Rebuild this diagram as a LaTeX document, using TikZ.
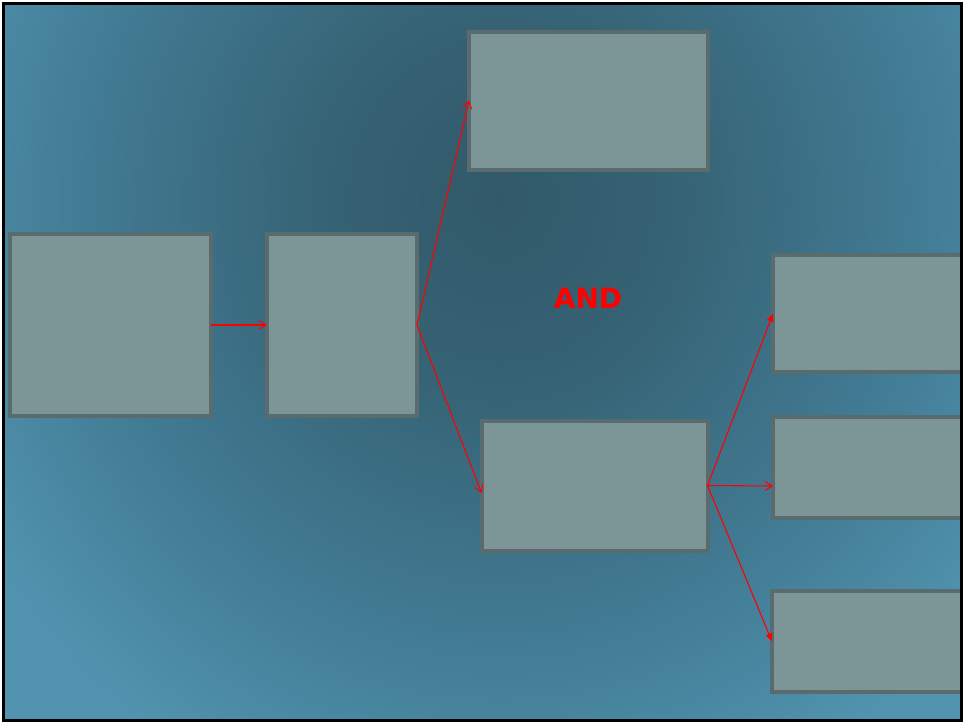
\documentclass[tikz,border=0pt]{standalone}
\usepackage{fontspec}
\newfontfamily\andfont{DejaVu Sans}
\usetikzlibrary{arrows.meta}
\definecolor{boxfill}{HTML}{7C9597}
\definecolor{boxline}{HTML}{5A6B6D}
\definecolor{bgA}{HTML}{315969}
\definecolor{bgB}{HTML}{366375}
\definecolor{bgC}{HTML}{427C95}
\definecolor{bgD}{HTML}{5294B0}
\pgfdeclareradialshading{bgshade}{\pgfpoint{0bp}{0bp}}{color(0bp)=(bgA); color(5.4bp)=(bgB); color(12.7bp)=(bgC); color(18.5bp)=(bgD); color(50bp)=(bgD)}
\tikzset{
  box/.style={draw=boxline, fill=boxfill, line width=4pt, inner sep=0pt, outer sep=0pt},
  openarr/.style={draw=red, line width=1.1pt, -{Straight Barb[length=7pt,width=9pt,line width=1pt]}},
  fillarr/.style={draw=red, line width=1.1pt, -{Triangle[length=8pt,width=6.5pt]}},
}
\begin{document}
\begin{tikzpicture}[x=1pt,y=-1pt]
\useasboundingbox (0,0) rectangle (964,724);
\fill[white] (0,0) rectangle (964,724);
\begin{scope}
\clip (3.5,3) rectangle (961.5,720.5);
\fill[bgD] (3.5,3) rectangle (961.5,720.5);
\fill[shading=bgshade] (500,200) ellipse [x radius=832pt, y radius=884pt];
\node[box, minimum width=201pt, minimum height=182pt] (a) at (110.5,325) {};
\node[box, minimum width=150pt, minimum height=182pt] (b) at (342,325) {};
\node[box, minimum width=239pt, minimum height=138pt] (c) at (588.5,100.5) {};
\node[box, minimum width=226pt, minimum height=130pt] (d) at (594.5,485.5) {};
\node[box, minimum width=240pt, minimum height=117pt] (e) at (893,313.5) {};
\node[box, minimum width=240pt, minimum height=101pt] (f) at (893,467.5) {};
\node[box, minimum width=240pt, minimum height=101pt] (g) at (892,641.5) {};
\node[text=red, font=\andfont\bfseries\fontsize{28}{32}\selectfont] (and) at (588,298) {AND};
\draw[openarr] (a.east) -- (b.west);
\draw[openarr] (b.east) -- (c.west);
\draw[openarr] (b.east) -- ([yshift=-7.5pt]d.west);
\draw[fillarr] (d.east) -- (e.west);
\draw[openarr] (d.east) -- ([yshift=-18.5pt]f.west);
\draw[fillarr] (d.east) -- (g.west);
\end{scope}
\draw[black, line width=3pt] (3.5,3) rectangle (961.5,720.5);
\end{tikzpicture}
\end{document}
